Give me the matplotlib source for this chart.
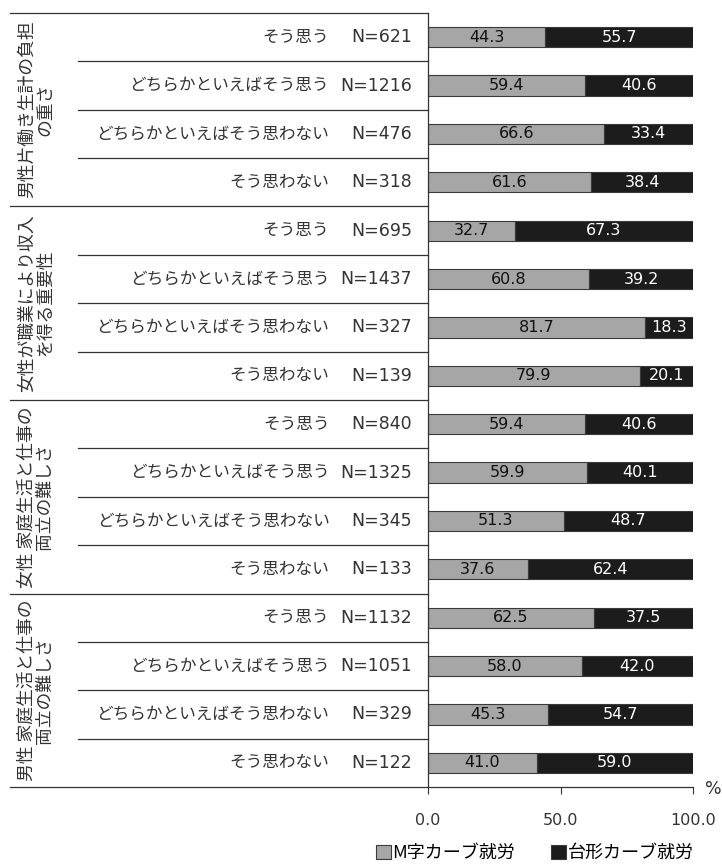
import matplotlib
matplotlib.use("Agg")
import matplotlib.pyplot as plt
from matplotlib.patches import Patch
import matplotlib.transforms as mtransforms

plt.rcParams['font.family'] = ['DejaVu Sans', 'Noto Sans CJK JP']

groups = ["男性片働き生計の負担\nの重さ",
          "女性が職業により収入\nを得る重要性",
          "女性 家庭生活と仕事の\n両立の難しさ",
          "男性 家庭生活と仕事の\n両立の難しさ"]
answers = ["そう思う", "どちらかといえばそう思う", "どちらかといえばそう思わない", "そう思わない"]
n_values = [621, 1216, 476, 318,
            695, 1437, 327, 139,
            840, 1325, 345, 133,
            1132, 1051, 329, 122]
m_curve = [44.3, 59.4, 66.6, 61.6,
           32.7, 60.8, 81.7, 79.9,
           59.4, 59.9, 51.3, 37.6,
           62.5, 58.0, 45.3, 41.0]
trapezoid = [55.7, 40.6, 33.4, 38.4,
             67.3, 39.2, 18.3, 20.1,
             40.6, 40.1, 48.7, 62.4,
             37.5, 42.0, 54.7, 59.0]
series_names = ["M字カーブ就労", "台形カーブ就労"]
xticks = [0, 50, 100]

W, H = 722, 867
fig = plt.figure(figsize=(W / 100, H / 100), dpi=100)
ax_left, ax_right, ax_top, ax_bot = 428, 693, 13, 787
ax = fig.add_axes([ax_left / W, 1 - ax_bot / H, (ax_right - ax_left) / W, (ax_bot - ax_top) / H])

nrows = len(m_curve)
ys = list(range(nrows))
gray = "#a6a6a6"
black = "#1c1c1c"
edge = "#3a3a3a"
txt = "#333333"
bh = 0.42
ax.barh(ys, m_curve, height=bh, color=gray, edgecolor=edge, linewidth=0.8)
ax.barh(ys, trapezoid, left=m_curve, height=bh, color=black, edgecolor=edge, linewidth=0.8)

for y, a, b in zip(ys, m_curve, trapezoid):
    ax.text(a / 2, y, f"{a:.1f}", ha="center", va="center", fontsize=11.5, color="#111111",
            family="DejaVu Sans")
    ax.text(a + b / 2, y, f"{b:.1f}", ha="center", va="center", fontsize=11.5, color="white",
            family="DejaVu Sans")

ax.set_xlim(0, 100)
ax.set_ylim(nrows - 0.5, -0.5)
ax.set_yticks([])
ax.set_xticks(xticks)
ax.set_xticklabels([f"{v:.1f}" for v in xticks], fontsize=11.5, color=txt)
ax.tick_params(axis="x", direction="out", length=5, width=0.8, pad=13.5, color=txt)
for s in ["top", "right"]:
    ax.spines[s].set_visible(False)
for s in ["left", "bottom"]:
    ax.spines[s].set_color(txt)
    ax.spines[s].set_linewidth(0.9)

trans = mtransforms.blended_transform_factory(ax.transAxes, ax.transData)
x_far = (10 - ax_left) / (ax_right - ax_left)
x_near = (78 - ax_left) / (ax_right - ax_left)
x_lab = (412 - ax_left) / (ax_right - ax_left)
x_g = (36 - ax_left) / (ax_right - ax_left)

# row separators
for i in range(nrows + 1):
    yb = i - 0.5
    x0 = x_far if i % 4 == 0 else x_near
    ax.plot([x0, 0], [yb, yb], transform=trans, color=txt, lw=0.9, clip_on=False)

# row labels: "N=..." part and answer part
for i in range(nrows):
    ans = answers[i % 4]
    n = n_values[i]
    nt = ax.text(x_lab, i, f"N={n}", transform=trans, ha="right", va="center",
                 fontsize=12.5, color=txt, family="DejaVu Sans")
    gap = 11 if n >= 1000 else 22
    ax.annotate(ans, xy=(0, 0.5), xycoords=nt, xytext=(-gap, 0), textcoords="offset pixels",
                ha="right", va="center", fontsize=12, color=txt,
                family=["Noto Sans CJK JP", "DejaVu Sans"])

# group labels
for g, name in enumerate(groups):
    ax.text(x_g, g * 4 + 1.5, name, transform=trans, ha="center", va="center",
            rotation=90, multialignment="center", fontsize=12.8, color=txt,
            linespacing=1.0, family=["Noto Sans CJK JP", "DejaVu Sans"])

# percent sign
fig.text(705 / W, 1 - 789 / H, "%", ha="left", va="center", fontsize=12.5, color=txt)

handles = [Patch(facecolor=gray, edgecolor=edge, linewidth=0.8),
           Patch(facecolor=black, edgecolor=edge, linewidth=0.8)]
fig.legend(handles, series_names, loc="center", bbox_to_anchor=(535 / W, 1 - 853 / H),
           ncol=2, frameon=False, handlelength=0.8, handleheight=0.8,
           handletextpad=0.1, columnspacing=2.0, borderaxespad=0,
           prop={"family": ["Noto Sans CJK JP", "DejaVu Sans"], "size": 13})

fig.savefig("out.png", dpi=100)
